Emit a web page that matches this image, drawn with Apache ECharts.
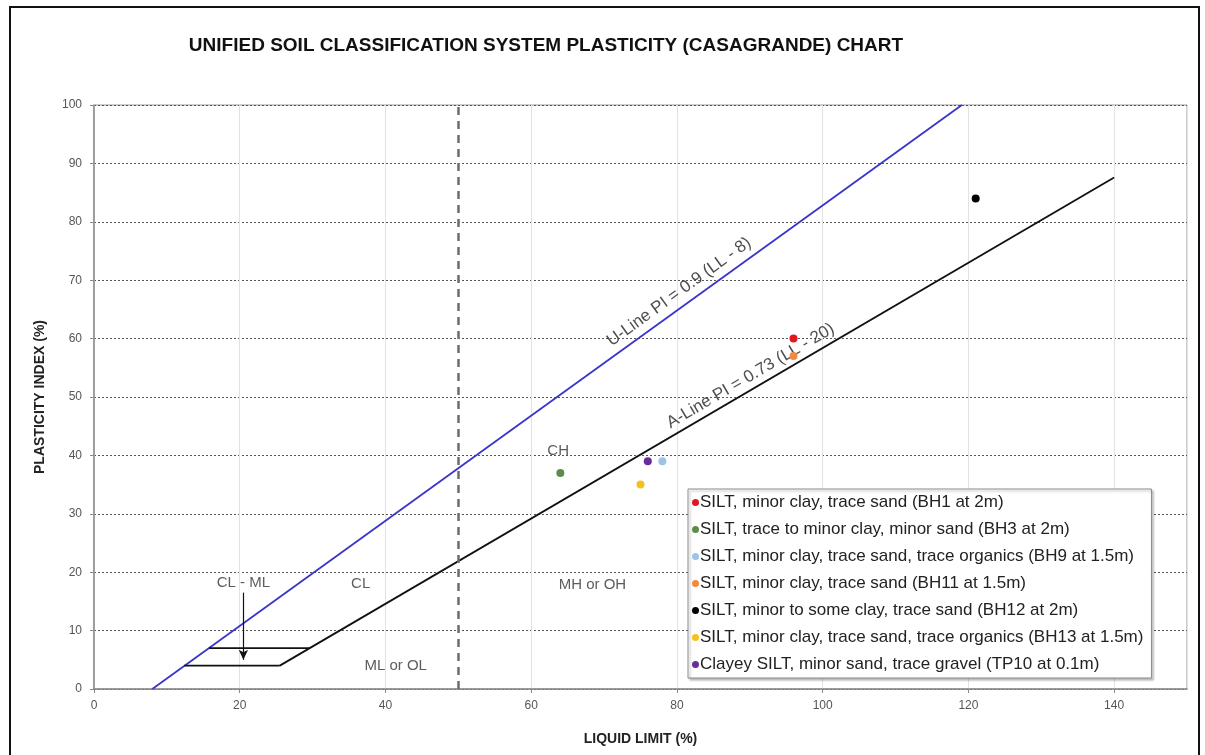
<!DOCTYPE html>
<html>
<head>
<meta charset="utf-8">
<script src="https://cdn.jsdelivr.net/npm/echarts@6/dist/echarts.min.js"></script>
<style>
html,body{margin:0;padding:0;background:#fff;}
#chart{width:1205px;height:755px;}
</style>
</head>
<body>
<div id="chart"></div>
<script>
// ---- Data ----
const sampleNames = [
  'SILT, minor clay, trace sand (BH1 at 2m)',
  'SILT, trace to minor clay, minor sand (BH3 at 2m)',
  'SILT, minor clay, trace sand, trace organics (BH9 at 1.5m)',
  'SILT, minor clay, trace sand (BH11 at 1.5m)',
  'SILT, minor to some clay, trace sand (BH12 at 2m)',
  'SILT, minor clay, trace sand, trace organics (BH13 at 1.5m)',
  'Clayey SILT, minor sand, trace gravel (TP10 at 0.1m)'
];
const sampleLL = [96, 64, 78, 96, 121, 75, 76];
const samplePI = [60, 37, 39, 57, 84, 35, 39];
const sampleColors = ['#e3161f', '#5b8c4c', '#9cc3e8', '#ef8a3f', '#000000', '#f2c31c', '#6a2c99'];

const uLine = [[8, 0], [119.1, 100]];
const aLine = [[25.5, 4], [140, 87.6]];
const clmlUpper = [[15.8, 7], [29.6, 7]];
const clmlLower = [[12.4, 4], [25.5, 4]];
const clmlArrow = [[20.5, 16.5], [20.5, 5]];
const boundaryLL = 50;

const zoneLabels = [
  ['CL - ML', 20.5, 18.2],
  ['CL', 36.6, 18.0],
  ['MH or OH', 68.4, 17.8],
  ['ML or OL', 41.4, 3.9],
  ['CH', 63.7, 40.8]
];
const lineLabels = [
  ['U-Line PI = 0.9 (LL - 8)', 80.3, 68.0, 35.9],
  ['A-Line PI = 0.73 (LL - 20)', 90.1, 53.6, 30.4]
];

const xTicks = {min: 0, max: 150, interval: 20};
const yTicks = {min: 0, max: 100, interval: 10};

// ---- Chart ----
const FONT = 'Liberation Sans, Arial, sans-serif';
const chart = echarts.init(document.getElementById('chart'), null, {renderer: 'canvas'});

const series = [];
series.push({
  type: 'line', data: uLine, symbol: 'none', silent: true,
  lineStyle: {color: '#3a35c8', width: 1.8}, z: 3
});
series.push({
  type: 'line', data: aLine, symbol: 'none', silent: true,
  lineStyle: {color: '#111', width: 1.8}, z: 3
});
series.push({
  type: 'line', data: clmlUpper, symbol: 'none', silent: true,
  lineStyle: {color: '#111', width: 1.8}, z: 3
});
series.push({
  type: 'line', data: clmlLower, symbol: 'none', silent: true,
  lineStyle: {color: '#111', width: 1.8}, z: 3,
  markLine: {
    silent: true, animation: false,
    label: {show: false},
    data: [
      [{coord: clmlArrow[0], symbol: 'none'}, {coord: clmlArrow[1], symbol: 'arrow', symbolSize: [7, 10]}],
      [{coord: [boundaryLL, yTicks.min], symbol: 'none', lineStyle: {color: '#6d6d6d', width: 2.5, type: [8, 6]}},
       {coord: [boundaryLL, yTicks.max], symbol: 'none'}]
    ],
    lineStyle: {color: '#111', width: 1.2, type: 'solid'}
  }
});

// zone text labels
series.push({
  type: 'scatter', silent: true, symbolSize: 0, z: 5,
  data: zoneLabels.map(z => ({value: [z[1], z[2]], name: z[0]})),
  label: {show: true, position: 'inside', formatter: p => p.name,
    fontFamily: FONT, fontSize: 15, color: '#333'}
});
// line text labels
lineLabels.forEach(l => {
  series.push({
    type: 'scatter', silent: true, symbolSize: 0, z: 5,
    data: [{value: [l[1], l[2]], name: l[0]}],
    label: {show: true, position: 'inside', rotate: l[3], formatter: p => p.name,
      fontFamily: FONT, fontSize: 17, color: '#222'}
  });
});
// samples
sampleNames.forEach((n, i) => {
  series.push({
    name: n, type: 'scatter', symbol: 'circle', symbolSize: 8, z: 6,
    data: [[sampleLL[i], samplePI[i]]],
    itemStyle: {color: sampleColors[i], opacity: 1}
  });
});

chart.setOption({
  animation: false,
  backgroundColor: '#fff',
  title: {
    text: 'UNIFIED SOIL CLASSIFICATION SYSTEM PLASTICITY (CASAGRANDE) CHART',
    left: 541, top: 31, textAlign: 'center',
    textStyle: {fontFamily: 'Liberation Sans Narrow, Liberation Sans, Arial, sans-serif', fontWeight: 'bold', fontSize: 19, color: '#111'}
  },
  grid: {left: 94, right: 18, top: 105, bottom: 66, show: true, borderColor: '#9a9a9a', borderWidth: 1, backgroundColor: 'transparent'},
  legend: {
    orient: 'vertical', left: 688, top: 489,
    data: sampleNames,
    icon: 'circle', itemWidth: 7, itemHeight: 7, itemGap: 10,
    padding: [5, 8, 5, 4],
    backgroundColor: '#fff', borderColor: '#8a8a8a', borderWidth: 1,
    shadowColor: 'rgba(0,0,0,0.25)', shadowBlur: 2, shadowOffsetX: 2, shadowOffsetY: 2,
    textStyle: {fontFamily: FONT, fontSize: 17, color: '#222', padding: [0, 0, 0, -4]},
    selectedMode: false
  },
  xAxis: {
    type: 'value', min: xTicks.min, max: xTicks.max, interval: xTicks.interval,
    name: 'LIQUID LIMIT (%)', nameLocation: 'middle', nameGap: 43,
    nameTextStyle: {fontFamily: FONT, fontWeight: 'bold', fontSize: 14, color: '#222'},
    axisLine: {show: true, onZero: false, lineStyle: {color: '#8a8a8a', width: 1.5}},
    axisTick: {show: true, length: 4, lineStyle: {color: '#8a8a8a'}},
    axisLabel: {fontFamily: FONT, fontSize: 12, color: '#555', margin: 11, showMaxLabel: false},
    splitLine: {show: true, lineStyle: {color: '#e2e2e2', width: 1}}
  },
  yAxis: {
    type: 'value', min: yTicks.min, max: yTicks.max, interval: yTicks.interval,
    name: 'PLASTICITY INDEX (%)', nameLocation: 'middle', nameGap: 47,
    nameTextStyle: {fontFamily: FONT, fontWeight: 'bold', fontSize: 14, color: '#222'},
    axisLine: {show: true, lineStyle: {color: '#8a8a8a', width: 1.5}},
    axisTick: {show: true, length: 4, lineStyle: {color: '#8a8a8a'}},
    axisLabel: {fontFamily: FONT, fontSize: 12, color: '#555', margin: 12},
    splitLine: {show: true, lineStyle: {color: '#555', width: 1, type: [2, 2]}}
  },
  graphic: [
    {type: 'polyline', silent: true, shape: {points: [[10, 755], [10, 7], [1199, 7], [1199, 755]]},
     style: {stroke: '#111', lineWidth: 2, fill: null}}
  ],
  series: series
});
</script>
</body>
</html>
